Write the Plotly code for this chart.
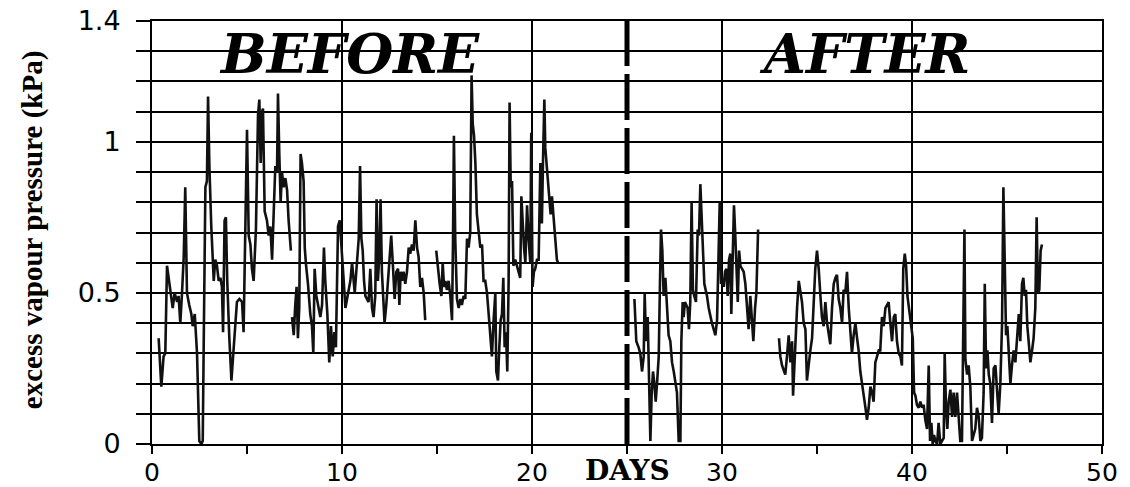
import plotly.graph_objects as go

# ---- data (days, excess vapour pressure kPa); None marks gaps in record ----
before_days = [0.35,0.49,0.61,0.70,0.79,0.96,1.09,1.19,1.32,1.40,1.49,1.58,1.67,1.75,1.84,1.96,2.07,2.14,2.25,2.37,
               2.49,2.60,2.67,2.72,2.81,2.89,2.95,3.02,3.12,3.25,3.33,3.42,3.51,3.60,3.68,3.74,3.82,3.89,3.96,4.07,
               4.18,4.28,4.39,4.47,4.60,4.74,4.82,4.91,5.00,5.09,5.18,5.26,5.35,5.47,5.58,5.65,5.72,5.79,5.84,5.93,
               6.05,6.14,6.23,6.32,6.40,6.49,6.58,6.63,6.70,6.77,6.84,6.93,7.02,7.11,7.19,7.31,7.34,
               7.37,7.46,7.54,7.61,7.68,7.75,7.82,7.89,7.98,8.04,8.11,8.21,8.33,8.42,8.49,8.56,8.65,8.77,8.86,8.95,
               9.05,9.12,9.23,9.33,9.42,9.51,9.60,9.68,9.79,9.88,10.00,10.09,10.18,10.32,10.44,10.53,10.67,
               10.88,10.95,11.02,11.09,11.16,11.23,11.31,11.40,11.49,11.58,11.66,11.75,11.82,11.89,11.96,12.03,12.10,
               12.19,12.24,12.33,12.42,12.51,12.59,12.68,12.77,12.86,12.95,13.02,13.09,13.16,13.24,13.33,13.42,13.51,
               13.59,13.68,13.77,13.86,13.95,14.03,14.12,14.21,14.30,14.38,14.6,
               14.96,15.05,15.14,15.23,15.30,15.37,15.44,15.52,15.61,15.70,15.79,15.84,15.89,15.96,16.05,16.14,16.23,
               16.31,16.40,16.49,16.58,16.66,16.75,16.82,16.88,16.95,17.02,17.10,17.19,17.28,17.37,17.45,17.54,17.63,
               17.72,17.81,17.89,17.98,18.07,18.12,18.21,18.28,18.35,18.42,18.49,18.56,18.63,18.70,18.77,18.82,18.88,
               18.95,19.02,19.12,19.21,19.30,19.38,19.44,19.51,19.58,19.65,19.74,19.82,19.91,19.96,20.03,20.10,20.17,
               20.26,20.35,20.44,20.52,20.58,20.65,20.70,20.77,20.84,20.91,20.98,21.05,21.14,21.23,21.31,21.37]
before_kpa = [0.35,0.19,0.29,0.30,0.59,0.51,0.45,0.50,0.47,0.49,0.40,0.50,0.62,0.85,0.50,0.46,0.43,0.39,0.43,0.30,
              0.01,0.00,0.01,0.32,0.85,0.87,1.15,0.92,0.72,0.54,0.61,0.59,0.54,0.55,0.52,0.37,0.74,0.75,0.54,0.35,
              0.21,0.30,0.41,0.47,0.48,0.47,0.37,0.68,1.04,0.69,0.66,0.58,0.54,0.71,1.09,1.14,0.93,1.10,1.11,0.77,
              0.74,0.69,0.72,0.61,0.77,0.92,0.90,1.16,0.96,0.80,0.90,0.85,0.88,0.84,0.74,0.64,None,
              0.42,0.36,0.46,0.52,0.35,0.45,0.96,0.93,0.87,0.65,0.59,0.53,0.43,0.39,0.30,0.58,0.49,0.45,0.42,0.46,
              0.65,0.54,0.43,0.27,0.39,0.29,0.37,0.32,0.72,0.74,0.60,0.54,0.45,0.50,0.54,0.60,0.50,
              0.68,0.92,0.68,0.64,0.54,0.49,0.48,0.47,0.58,0.45,0.42,0.49,0.81,0.54,0.62,0.81,0.57,
              0.45,0.40,0.46,0.54,0.63,0.69,0.59,0.48,0.57,0.58,0.46,0.57,0.54,0.57,0.53,0.57,0.65,
              0.63,0.66,0.64,0.74,0.65,0.62,0.52,0.55,0.50,0.41,None,
              0.64,0.58,0.53,0.49,0.60,0.52,0.54,0.51,0.54,0.49,0.41,0.66,1.02,0.68,0.48,0.45,0.48,
              0.46,0.49,0.48,0.68,0.65,0.70,1.22,1.06,1.02,0.93,0.76,0.70,0.65,0.66,0.54,0.54,0.50,
              0.43,0.35,0.29,0.41,0.50,0.24,0.21,0.32,0.41,0.43,0.55,0.32,0.37,0.24,0.54,1.13,0.85,
              0.87,0.59,0.61,0.59,0.57,0.55,0.82,0.72,0.65,0.60,0.79,0.68,0.60,1.03,0.52,0.57,0.58,
              0.61,0.61,0.93,0.73,0.94,1.14,0.98,0.93,0.86,0.81,0.76,0.82,0.75,0.69,0.61,0.60]

after_days = [25.39,25.49,25.61,25.70,25.79,25.88,25.93,26.00,26.09,26.16,26.23,26.30,26.37,26.44,26.51,26.58,26.67,
              26.74,26.79,26.86,26.93,27.02,27.11,27.19,27.28,27.37,27.46,27.54,27.63,27.72,27.81,27.86,27.93,27.98,
              28.05,28.12,28.19,28.26,28.33,28.40,28.47,28.54,28.63,28.72,28.79,28.86,28.93,29.00,29.07,29.14,29.21,
              29.30,29.39,29.47,29.56,29.65,29.74,29.83,29.88,29.95,30.02,30.09,30.16,30.23,30.30,30.37,30.44,30.49,
              30.56,30.63,30.70,30.76,30.83,30.90,30.97,31.05,31.14,31.23,31.32,31.40,31.49,31.58,31.65,31.74,31.81,
              31.90,32.4,
              33.00,33.07,33.16,33.25,33.33,33.42,33.51,33.60,33.69,33.74,33.81,33.88,33.95,34.04,34.12,34.21,34.30,
              34.39,34.47,34.56,34.65,34.74,34.83,34.91,35.00,35.09,35.18,35.26,35.35,35.44,35.53,35.62,35.70,35.79,
              35.88,35.97,36.05,36.14,36.23,36.32,36.40,36.49,36.58,36.67,36.76,36.84,36.93,37.02,37.11,37.19,37.28,
              37.37,37.46,37.55,37.63,37.72,37.81,37.90,37.98,38.07,38.16,38.25,38.33,38.42,38.51,38.60,38.69,38.77,
              38.86,38.95,39.04,39.12,39.21,39.30,39.39,39.47,39.54,39.62,39.69,39.76,40.04,40.11,40.18,40.26,40.35,
              40.44,40.53,40.61,40.70,40.79,40.88,40.95,41.02,41.09,41.16,41.23,41.32,41.40,41.49,41.58,41.67,41.72,
              41.79,41.86,41.93,42.02,42.11,42.19,42.28,42.37,42.46,42.54,42.63,42.68,42.76,42.81,42.90,42.98,43.07,
              43.16,43.25,43.33,43.42,43.51,43.60,43.68,43.77,43.83,43.90,43.97,44.04,44.12,44.21,44.30,44.39,44.47,
              44.56,44.65,44.74,44.81,44.88,44.95,45.02,45.09,45.18,45.26,45.35,45.44,45.53,45.62,45.70,45.79,45.86,
              45.93,46.00,46.07,46.14,46.23,46.32,46.40,46.49,46.56,46.63,46.70,46.77,46.84]
after_kpa = [0.48,0.34,0.32,0.30,0.24,0.29,0.50,0.34,0.42,0.23,0.01,0.17,0.24,0.20,0.14,0.20,0.29,
             0.55,0.71,0.64,0.49,0.55,0.45,0.36,0.34,0.27,0.24,0.20,0.17,0.01,0.01,0.34,0.47,0.42,
             0.47,0.46,0.45,0.38,0.47,0.80,0.51,0.49,0.47,0.71,0.69,0.86,0.75,0.61,0.53,0.51,0.49,
             0.45,0.42,0.40,0.38,0.36,0.41,0.66,0.80,0.53,0.55,0.52,0.57,0.58,0.49,0.61,0.63,0.43,
             0.66,0.79,0.69,0.55,0.47,0.64,0.59,0.58,0.57,0.53,0.45,0.38,0.49,0.40,0.34,0.45,0.50,
             0.71,None,
             0.35,0.29,0.26,0.24,0.23,0.29,0.36,0.27,0.34,0.16,0.26,0.40,0.45,0.54,0.51,0.47,0.40,
             0.38,0.21,0.27,0.31,0.35,0.49,0.58,0.64,0.58,0.49,0.42,0.39,0.47,0.40,0.36,0.33,0.45,
             0.53,0.55,0.56,0.48,0.45,0.40,0.51,0.50,0.57,0.45,0.35,0.30,0.36,0.40,0.35,0.31,0.24,
             0.19,0.16,0.12,0.08,0.12,0.19,0.17,0.14,0.27,0.29,0.31,0.31,0.42,0.39,0.45,0.46,0.47,
             0.40,0.34,0.42,0.43,0.34,0.30,0.29,0.26,0.58,0.63,0.59,0.49,0.35,0.17,0.16,0.13,0.12,
             0.14,0.12,0.13,0.08,0.05,0.26,0.01,0.07,0.00,0.03,0.01,0.00,0.07,0.00,0.01,0.02,0.30,
             0.12,0.05,0.14,0.18,0.09,0.17,0.09,0.17,0.06,0.01,0.01,0.31,0.71,0.28,0.23,0.26,0.19,
             0.01,0.03,0.05,0.12,0.09,0.01,0.02,0.17,0.53,0.25,0.31,0.23,0.20,0.07,0.25,0.26,0.19,
             0.10,0.20,0.40,0.85,0.55,0.36,0.39,0.31,0.20,0.26,0.31,0.27,0.36,0.43,0.34,0.53,0.55,
             0.49,0.51,0.39,0.34,0.27,0.31,0.35,0.45,0.75,0.50,0.51,0.64,0.66]

y_tick_vals = [0, 0.1, 0.2, 0.3, 0.4, 0.5, 0.6, 0.7, 0.8, 0.9, 1.0, 1.1, 1.2, 1.3, 1.4]
y_tick_text = ["0", "", "", "", "", "0.5", "", "", "", "", "1", "", "", "", "1.4"]
x_tick_vals = [0, 10, 20, 30, 40, 50]
x_tick_text = ["0", "10", "20", "30", "40", "50"]
change_day = 25
period_labels = ["BEFORE", "AFTER"]
period_label_x = [10.4, 37.5]
x_title = "DAYS"
y_title = "excess vapour pressure (kPa)"

fig = go.Figure()
fig.add_trace(go.Scatter(x=before_days, y=before_kpa, mode="lines",
                         line=dict(color="#111111", width=2.6), connectgaps=False, showlegend=False))
fig.add_trace(go.Scatter(x=after_days, y=after_kpa, mode="lines",
                         line=dict(color="#111111", width=2.6), connectgaps=False, showlegend=False))

fig.add_shape(type="line", x0=change_day, x1=change_day, y0=0, y1=1.4, xref="x", yref="y",
              line=dict(color="black", width=5, dash="46px,8px"))

for lab, lx in zip(period_labels, period_label_x):
    fig.add_annotation(x=lx, y=1.29, xref="x", yref="y", text=f"<b><i>{lab}</i></b>", showarrow=False,
                       font=dict(family="DejaVu Serif", size=54, color="black"))

fig.add_annotation(x=change_day, y=-0.062, xref="x", yref="paper", text=f"<b>{x_title}</b>",
                   showarrow=False, yanchor="middle",
                   font=dict(family="DejaVu Serif", size=28, color="black"))

fig.add_annotation(x=-0.145, y=0.505, xref="paper", yref="paper", text=f"<b>{y_title}</b>",
                   textangle=-90, showarrow=False,
                   font=dict(family="Liberation Serif", size=29, color="black"))

fig.update_xaxes(range=[0, 50], tickvals=x_tick_vals, ticktext=x_tick_text, automargin=False,
                 showgrid=True, gridcolor="black", gridwidth=1.6,
                 showline=True, linecolor="black", linewidth=2, mirror=True,
                 ticks="outside", ticklen=8, tickwidth=2, tickcolor="black",
                 minor=dict(tickvals=[5, 15, 25, 35, 45], ticks="outside", ticklen=8, tickwidth=2,
                            tickcolor="black", showgrid=False),
                 tickfont=dict(family="DejaVu Sans", size=25, color="black"),
                 ticklabelstandoff=-3,
                 zeroline=False)
fig.update_yaxes(range=[0, 1.4], tickvals=y_tick_vals, ticktext=y_tick_text, automargin=False,
                 showgrid=True, gridcolor="black", gridwidth=2,
                 showline=True, linecolor="black", linewidth=2, mirror=True,
                 ticks="outside", ticklen=14, tickwidth=2, tickcolor="black",
                 ticklabelstandoff=10,
                 tickfont=dict(family="DejaVu Sans", size=27, color="black"),
                 zeroline=False)

fig.update_layout(width=1130, height=487, margin=dict(l=152, r=28, t=21, b=43, autoexpand=False),
                  paper_bgcolor="white", plot_bgcolor="white", showlegend=False)

fig.write_html("out.html", config={"displayModeBar": False},
               post_script="document.body.style.margin='0px';document.body.style.overflow='hidden';")
